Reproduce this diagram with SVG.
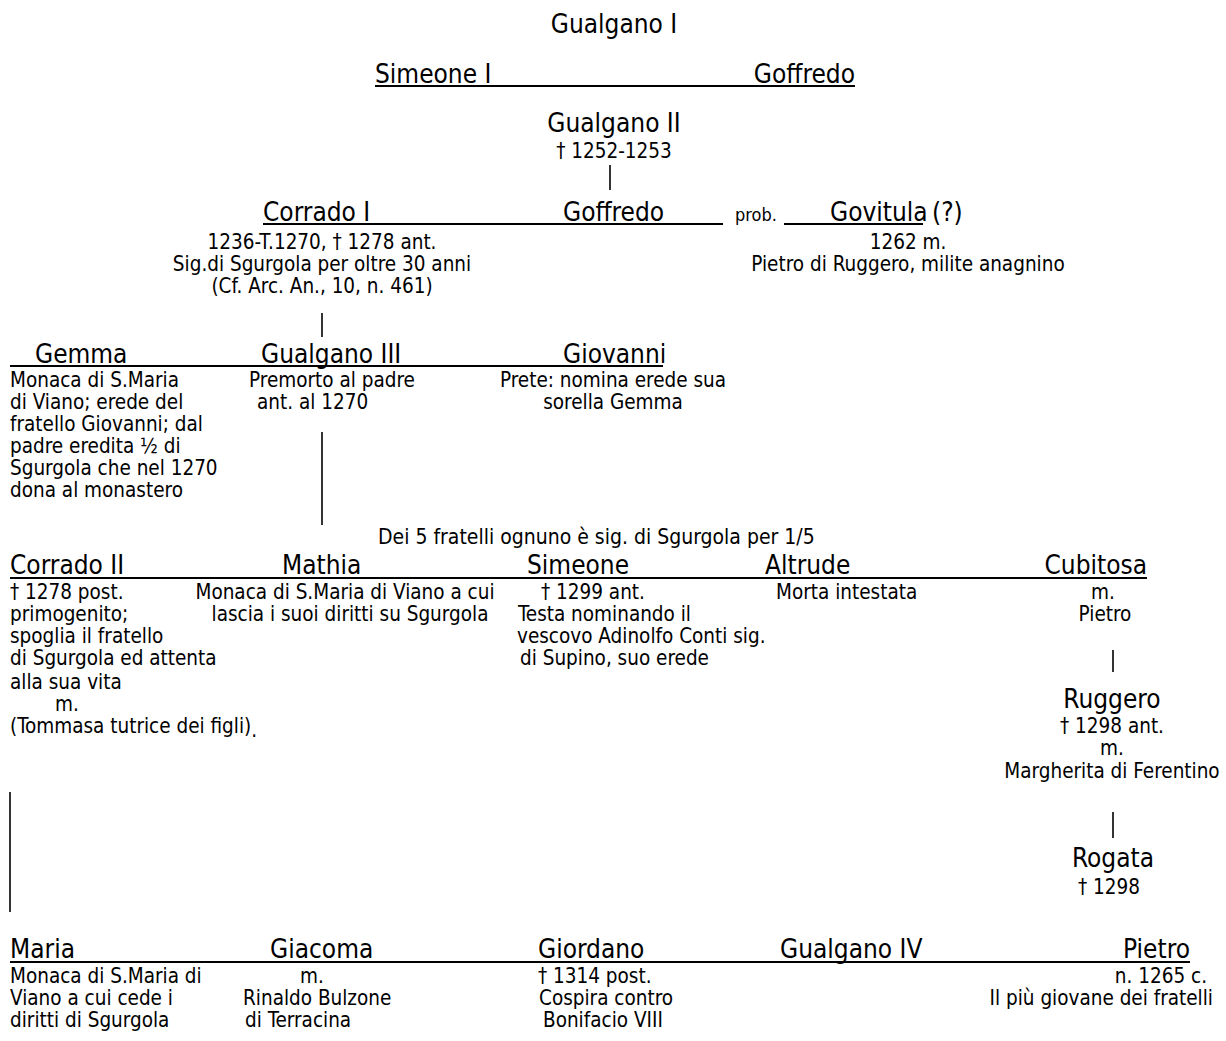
<svg xmlns="http://www.w3.org/2000/svg" width="1226" height="1041" viewBox="0 0 1226 1041">
<style>
text{font-family:"DejaVu Sans Condensed","DejaVu Sans",sans-serif;font-stretch:condensed;fill:#000}
.n{font-size:26px}
.d{font-size:20.5px}
.s{font-size:18px}
.m{text-anchor:middle}
.e{text-anchor:end}
line{stroke:#000;stroke-width:2}
.v{stroke-width:1.6}
</style>
<rect width="1226" height="1041" fill="#fff"/>
<g id="connectors">
<line x1="375" y1="86" x2="855" y2="86"/>
<line class="v" x1="610" y1="165" x2="610" y2="190"/>
<line x1="263" y1="224" x2="723" y2="224"/>
<line x1="784" y1="224" x2="923" y2="224"/>
<line class="v" x1="322" y1="313" x2="322" y2="337"/>
<line x1="10" y1="366" x2="663" y2="366"/>
<line class="v" x1="322" y1="432" x2="322" y2="525"/>
<line x1="10" y1="578" x2="1147" y2="578"/>
<line class="v" x1="1113" y1="650" x2="1113" y2="672"/>
<line class="v" x1="1113" y1="812" x2="1113" y2="838"/>
<line class="v" x1="10" y1="792" x2="10" y2="912"/>
<line x1="10" y1="962" x2="1190" y2="962"/>
</g>
<g id="gualgano1"><text class="n m" x="614" y="33">Gualgano I</text></g>
<g id="simeone1"><text class="n" x="375" y="83">Simeone I</text></g>
<g id="goffredo1"><text class="n e" x="855" y="83">Goffredo</text></g>
<g id="gualgano2"><text class="n m" x="614" y="132">Gualgano II</text><text class="d m" x="614" y="158">† 1252-1253</text></g>
<g id="corrado1"><text class="n" x="263" y="221">Corrado I</text>
<text class="d m" x="322" y="249">1236-T.1270, † 1278 ant.</text>
<text class="d m" x="322" y="271">Sig.di Sgurgola per oltre 30 anni</text>
<text class="d m" x="322" y="293">(Cf. Arc. An., 10, n. 461)</text></g>
<g id="goffredo2"><text class="n" x="563" y="221">Goffredo</text></g>
<g id="prob"><text class="s" x="735" y="221">prob.</text></g>
<g id="govitula"><text class="n" x="830" y="221">Govitula<tspan x="932">(?)</tspan></text>
<text class="d m" x="908" y="249">1262 m.</text>
<text class="d m" x="908" y="271">Pietro di Ruggero, milite anagnino</text></g>
<g id="gemma"><text class="n" x="35" y="363">Gemma</text>
<text class="d" x="10" y="387">Monaca di S.Maria</text>
<text class="d" x="10" y="409">di Viano; erede del</text>
<text class="d" x="10" y="431">fratello Giovanni; dal</text>
<text class="d" x="10" y="453">padre eredita ½ di</text>
<text class="d" x="10" y="475">Sgurgola che nel 1270</text>
<text class="d" x="10" y="497">dona al monastero</text></g>
<g id="gualgano3"><text class="n" x="261" y="363">Gualgano III</text>
<text class="d" x="249" y="387">Premorto al padre</text>
<text class="d" x="257" y="409">ant. al 1270</text></g>
<g id="giovanni"><text class="n" x="563" y="363">Giovanni</text>
<text class="d m" x="613" y="387">Prete: nomina erede sua</text>
<text class="d m" x="613" y="409">sorella Gemma</text></g>
<g id="note"><text class="d" x="378" y="544" style="font-size:21px">Dei 5 fratelli ognuno è sig. di Sgurgola per 1/5</text></g>
<g id="corrado2"><text class="n" x="10" y="574">Corrado II</text>
<text class="d" x="10" y="599">† 1278 post.</text>
<text class="d" x="10" y="621">primogenito;</text>
<text class="d" x="10" y="643">spoglia il fratello</text>
<text class="d" x="10" y="665">di Sgurgola ed attenta</text>
<text class="d" x="10" y="689">alla sua vita</text>
<text class="d" x="55" y="711">m.</text>
<text class="d" x="10" y="733">(Tommasa tutrice dei figli)<tspan dy="4">.</tspan></text></g>
<g id="mathia"><text class="n" x="282" y="574">Mathia</text>
<text class="d m" x="345" y="599">Monaca di S.Maria di Viano a cui</text>
<text class="d m" x="350" y="621">lascia i suoi diritti su Sgurgola</text></g>
<g id="simeone2"><text class="n" x="527" y="574">Simeone</text>
<text class="d" x="541" y="599">† 1299 ant.</text>
<text class="d" x="518" y="621">Testa nominando il</text>
<text class="d" x="517" y="643">vescovo Adinolfo Conti sig.</text>
<text class="d" x="520" y="665">di Supino, suo erede</text></g>
<g id="altrude"><text class="n" x="765" y="574">Altrude</text>
<text class="d" x="776" y="599">Morta intestata</text></g>
<g id="cubitosa"><text class="n e" x="1147" y="574">Cubitosa</text>
<text class="d m" x="1103" y="599">m.</text>
<text class="d m" x="1105" y="621">Pietro</text></g>
<g id="ruggero"><text class="n m" x="1112" y="708">Ruggero</text>
<text class="d m" x="1112" y="733">† 1298 ant.</text>
<text class="d m" x="1112" y="755">m.</text>
<text class="d m" x="1112" y="778">Margherita di Ferentino</text></g>
<g id="rogata"><text class="n m" x="1113" y="867">Rogata</text>
<text class="d m" x="1109" y="894">† 1298</text></g>
<g id="maria"><text class="n" x="10" y="958">Maria</text>
<text class="d" x="10" y="983">Monaca di S.Maria di</text>
<text class="d" x="10" y="1005">Viano a cui cede i</text>
<text class="d" x="10" y="1027">diritti di Sgurgola</text></g>
<g id="giacoma"><text class="n" x="270" y="958">Giacoma</text>
<text class="d m" x="312" y="983">m.</text>
<text class="d" x="243" y="1005">Rinaldo Bulzone</text>
<text class="d" x="245" y="1027">di Terracina</text></g>
<g id="giordano"><text class="n" x="538" y="958">Giordano</text>
<text class="d" x="538" y="983">† 1314 post.</text>
<text class="d" x="539" y="1005">Cospira contro</text>
<text class="d" x="543" y="1027">Bonifacio VIII</text></g>
<g id="gualgano4"><text class="n" x="780" y="958">Gualgano IV</text></g>
<g id="pietro"><text class="n e" x="1190" y="958">Pietro</text>
<text class="d e" x="1207" y="983">n. 1265 c.</text>
<text class="d e" x="1213" y="1005">Il più giovane dei fratelli</text></g>
</svg>
